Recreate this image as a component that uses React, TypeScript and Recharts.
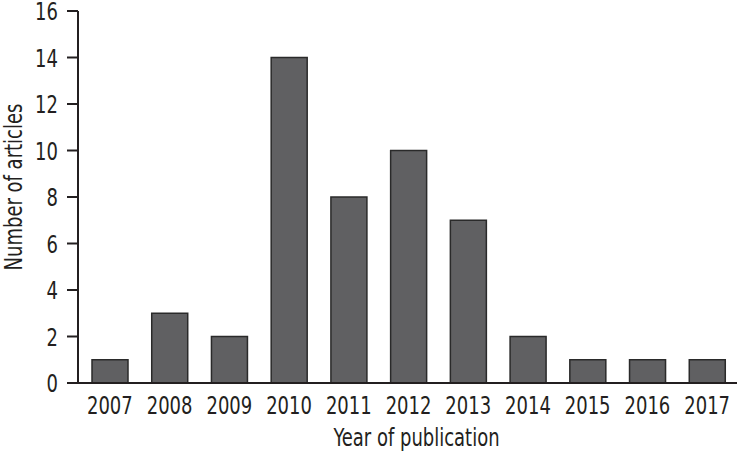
import { BarChart, Bar, XAxis, YAxis, Label } from "recharts";

const YEARS = ["2007", "2008", "2009", "2010", "2011", "2012", "2013", "2014", "2015", "2016", "2017"];
const ARTICLES = [1, 3, 2, 14, 8, 10, 7, 2, 1, 1, 1];
const Y_TICKS = [0, 2, 4, 6, 8, 10, 12, 14, 16];

const FONT = "'DejaVu Sans Condensed', 'DejaVu Sans', sans-serif";
const INK = "#231f20";
const SIZE = 25;
const SQUEEZE = 0.8;

const data = YEARS.map((year, i) => ({ year, articles: ARTICLES[i] }));

// narrow text, the source uses a condensed face
const XTick = ({ x, y, payload }: any) => (
  <g transform={`translate(${x},${y})`}>
    <text transform={`scale(${SQUEEZE},1)`} textAnchor="middle" dy="0.72em" fill={INK} fontSize={SIZE} fontFamily={FONT}>
      {payload.value}
    </text>
  </g>
);

const YTick = ({ x, y, payload }: any) => (
  <g transform={`translate(${x},${y})`}>
    <text transform={`scale(${SQUEEZE},1)`} textAnchor="end" dy="0.36em" fill={INK} fontSize={SIZE} fontFamily={FONT}>
      {payload.value}
    </text>
  </g>
);

const XTitle = ({ viewBox }: any) => (
  <g transform={`translate(${viewBox.x + viewBox.width / 2 + 9},${viewBox.y + viewBox.height - 9})`}>
    <text transform={`scale(${SQUEEZE},1)`} textAnchor="middle" fill={INK} fontSize={SIZE} fontFamily={FONT}>
      Year of publication
    </text>
  </g>
);

const YTitle = ({ viewBox }: any) => (
  <g transform={`translate(${viewBox.x + 22},${viewBox.y + viewBox.height / 2 - 10}) rotate(-90)`}>
    <text transform={`scale(${SQUEEZE},1)`} textAnchor="middle" fill={INK} fontSize={SIZE} fontFamily={FONT}>
      Number of articles
    </text>
  </g>
);

export default function App() {
  return (
    <div style={{ position: "absolute", left: 0, top: 0, background: "#fff" }}>
      <BarChart
        width={738}
        height={455}
        data={data}
        margin={{ top: 11, right: 1, bottom: 0, left: 0 }}
        barSize={36}
      >
        <XAxis
          dataKey="year"
          tickLine={false}
          tickSize={0}
          tickMargin={13}
          height={72}
          padding={{ left: 2, right: 0 }}
          axisLine={{ stroke: INK, strokeWidth: 2 }}
          tick={<XTick />}
        >
          <Label content={<XTitle />} />
        </XAxis>
        <YAxis
          domain={[0, 16]}
          ticks={Y_TICKS}
          interval={0}
          width={78}
          tickSize={11}
          tickMargin={9}
          axisLine={{ stroke: INK, strokeWidth: 2 }}
          tickLine={{ stroke: INK, strokeWidth: 2 }}
          tick={<YTick />}
        >
          <Label content={<YTitle />} />
        </YAxis>
        <Bar
          dataKey="articles"
          fill="#606062"
          stroke="#2a2a2a"
          strokeWidth={1.5}
          isAnimationActive={false}
        />
      </BarChart>
    </div>
  );
}
